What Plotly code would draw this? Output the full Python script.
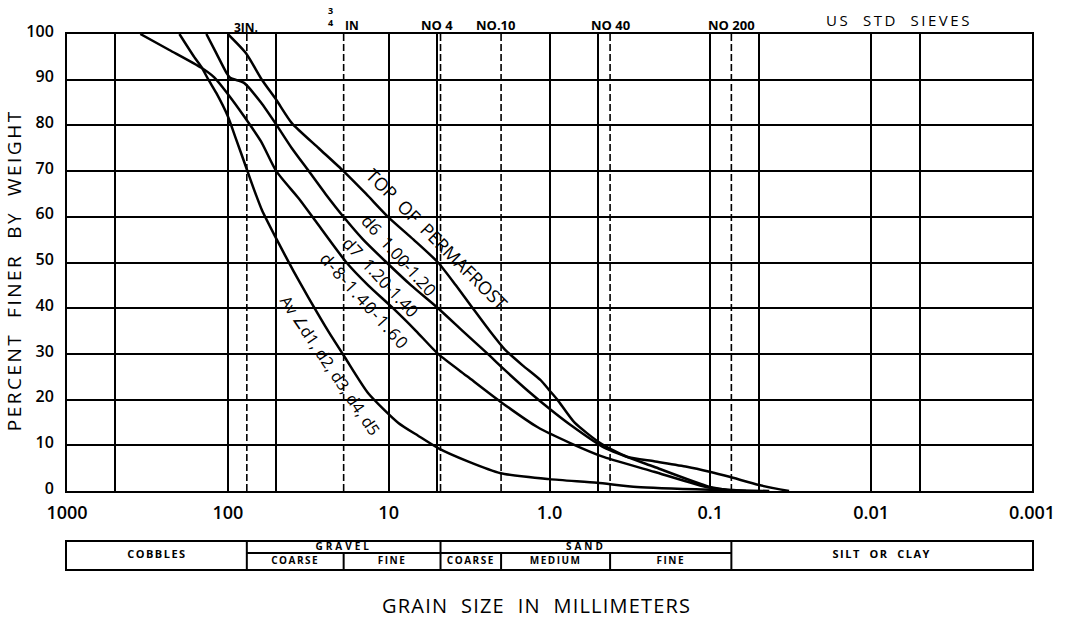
import math
import plotly.graph_objects as go

# ---- grain-size distribution curves (diameter in mm, percent finer by weight) ----
av_mm = [200, 162, 146, 132, 118, 100, 88.9, 77.1, 68.8, 61.4, 49.6, 38.9, 31.4, 23.6,
         18.6, 13.4, 8.7, 6.56, 4.93, 3.22, 2.01, 1.0, 0.506, 0.286, 0.101, 0.043]
av_pct = [100, 95, 92.8, 90, 87.1, 82, 77, 70.9, 66, 61.5, 55, 48, 42.2, 34.8,
          29.1, 21.4, 14.9, 12.1, 9.4, 6.5, 3.9, 2.6, 1.8, 0.9, 0.3, 0]

d6_mm = [100, 77.1, 61.4, 50, 40, 27.2, 19.1, 13.8, 10.1, 7.0, 4.93, 3.82, 3.0, 2.35,
         1.90, 1.47, 1.14, 1.0, 0.894, 0.70, 0.484, 0.33, 0.224, 0.140, 0.101, 0.076,
         0.0496, 0.0324]
d6_pct = [100, 95.8, 90, 85.6, 80.5, 75, 70, 65, 60, 55, 50, 45, 40, 35,
          31, 27.5, 24.3, 22, 20, 15, 10.5, 7.5, 6.5, 5.3, 4.2, 3.1,
          1.3, 0]

d7_mm = [136, 118, 102, 96.8, 79.3, 62.2, 49.6, 40.0, 31.4, 24.7, 19.1, 14.4, 10.3,
         7.25, 4.93, 3.46, 2.42, 1.90, 1.37, 1.0, 0.743, 0.457, 0.224, 0.101, 0.069]
d7_pct = [100, 95.8, 91.5, 90.4, 89.3, 85, 80, 75, 70, 65, 60, 55, 50,
          45, 40, 35, 30, 26.5, 22, 18, 14.5, 9.5, 5.3, 0.9, 0]

d8_mm = [350, 231, 146, 121.5, 98.2, 79.3, 62.2, 50, 36.2, 28.4, 18.3, 13.4, 9.4,
         6.75, 4.93, 3.22, 2.01, 1.19, 0.743, 0.457, 0.224, 0.101, 0.060]
d8_pct = [100, 96.5, 92.6, 90.5, 86.5, 82, 76.5, 70, 64, 59, 50, 45, 40,
          35, 30, 25, 19.5, 14, 10.5, 7.4, 4.2, 0.7, 0]

# ---- US standard sieve openings (mm) ----
sieve_names = ["3IN.", "3/4 IN", "NO 4", "NO.10", "NO 40", "NO 200"]
sieve_mm = [76.2, 19.05, 4.76, 2.0, 0.42, 0.074]

# ---- axis ticks ----
x_tick_vals = [1000, 100, 10, 1, 0.1, 0.01, 0.001]
x_tick_text = ["1000", "100", "10", "1.0", "0.1", "0.01", "0.001"]
x_minor_vals = [500, 50, 5, 0.5, 0.05, 0.005]
y_tick_vals = [0, 10, 20, 30, 40, 50, 60, 70, 80, 90, 100]

# ---- soil classification bands (mm limits) ----
main_bands = [("COBBLES", 1000, 76.2), ("SILT  OR  CLAY", 0.074, 0.001)]
group_bands = [("GRAVEL", 76.2, 4.76), ("SAND", 4.76, 0.074)]
sub_bands = [("COARSE", 76.2, 19.05), ("FINE", 19.05, 4.76),
             ("COARSE", 4.76, 2.0), ("MEDIUM", 2.0, 0.42), ("FINE", 0.42, 0.074)]

FONT = "Open Sans"
INK = "black"


def spaced(text, px):
    """Wrap text in a span with extra letter spacing."""
    return f'<span style="letter-spacing:{px}px">{text}</span>'


fig = go.Figure()

# sieve lines (dashed)
for s in sieve_mm:
    fig.add_trace(go.Scatter(x=[s, s], y=[0, 100], mode="lines",
                             line=dict(color=INK, width=1.6, dash="7px,3px"),
                             hoverinfo="skip", xaxis="x", yaxis="y"))

# gradation curves
for xs, ys in [(av_mm, av_pct), (d6_mm, d6_pct), (d7_mm, d7_pct), (d8_mm, d8_pct)]:
    fig.add_trace(go.Scatter(x=xs, y=ys, mode="lines",
                             line=dict(color=INK, width=2.5, shape="spline", smoothing=0.6),
                             xaxis="x", yaxis="y"))

# classification table beneath the chart
TOP_Y, MID_Y = 27, 16
def seg(x0, x1, y0, y1):
    fig.add_trace(go.Scatter(x=[x0, x1], y=[y0, y1], mode="lines",
                             line=dict(color=INK, width=2), hoverinfo="skip",
                             xaxis="x2", yaxis="y2"))

for lim in [76.2, 4.76, 0.074]:
    seg(lim, lim, 0, TOP_Y)
seg(76.2, 0.074, MID_Y, MID_Y)
for lim in [19.05, 2.0, 0.42]:
    seg(lim, lim, 0, MID_Y)

def band_text(bands, y, size, gap):
    fig.add_trace(go.Scatter(
        x=[math.sqrt(a * b) for _, a, b in bands], y=[y] * len(bands),
        text=[spaced(f"<b>{t}</b>", gap) for t, _, _ in bands], mode="text",
        textfont=dict(family=FONT, size=size, color=INK), cliponaxis=False,
        hoverinfo="skip", xaxis="x2", yaxis="y2"))

band_text(main_bands, 13.5, 11, 1.5)
band_text(group_bands, 21.5, 10, 3)
band_text(sub_bands, 7.5, 10, 1.5)

# ---- annotations ----
ann = []
def curve_label(text, d, p, angle, size=16):
    ann.append(dict(x=math.log10(d), y=p, xref="x", yref="y", text=text,
                    textangle=angle, showarrow=False, xanchor="center", yanchor="middle",
                    font=dict(family=FONT, size=size, color=INK)))

curve_label("TOP  OF  PERMAFROST", 5.0, 55.2, 45, size=18)
curve_label("d6  1.00-1.20", 8.6, 51.5, 48, size=17)
curve_label("d7  1.20-1.40", 11.1, 46.8, 47, size=17)
curve_label(spaced("d-8-1.40-1.60", 1.5), 14.2, 41.6, 48, size=17)
curve_label("Av ∠d1, d2, d3, d4, d5", 23.0, 27.4, 56, size=16)

def top_label(text, s, ypix, xshift=0, size=13, bold=True):
    ann.append(dict(x=math.log10(s), y=(584 - ypix) / 550, xref="x", yref="paper",
                    text=f"<b>{text}</b>" if bold else text, showarrow=False,
                    xshift=xshift, xanchor="center", yanchor="middle",
                    font=dict(family=FONT, size=size, color=INK)))

top_label("3IN.", sieve_mm[0], 28, xshift=-1, size=12)
top_label("3<br>4", sieve_mm[1], 16, xshift=-13, size=9)
top_label("IN", sieve_mm[1], 25, xshift=8, size=12)
top_label("NO 4", sieve_mm[2], 25, xshift=-4, size=13)
top_label("NO.10", sieve_mm[3], 25, xshift=-5, size=13)
top_label("NO 40", sieve_mm[4], 25, xshift=0, size=13)
top_label("NO 200", sieve_mm[5], 25, xshift=0, size=13)

def paper_text(text, xpix, ypix, size, angle=0):
    ann.append(dict(x=(xpix - 67) / 970, y=(584 - ypix) / 550, xref="paper", yref="paper",
                    text=text, textangle=angle, showarrow=False,
                    xanchor="center", yanchor="middle",
                    font=dict(family=FONT, size=size, color=INK)))

paper_text(spaced("US  STD  SIEVES", 2.5), 903, 20, 15)
paper_text(spaced("GRAIN  SIZE  IN  MILLIMETERS", 1.2), 539, 605, 20)
paper_text(spaced("PERCENT  FINER  BY  WEIGHT", 2.5), 14, 270, 19, angle=-90)

axis_line = dict(showline=True, mirror=True, linecolor=INK, linewidth=2, zeroline=False)

fig.update_layout(
    width=1067, height=624,
    margin=dict(l=67, r=30, t=34, b=40),
    paper_bgcolor="white", plot_bgcolor="white",
    showlegend=False,
    font=dict(family=FONT, color=INK),
    xaxis=dict(type="log", range=[3, -3], domain=[0, 1], anchor="y",
               tickmode="array", tickvals=x_tick_vals, ticktext=x_tick_text,
               ticks="", showgrid=True, gridcolor=INK, gridwidth=2,
               minor=dict(tickmode="array", tickvals=x_minor_vals, showgrid=True,
                          gridcolor=INK, gridwidth=2, ticks=""),
               tickfont=dict(family=FONT, size=18, color=INK, weight=600),
               ticklabelstandoff=4, **axis_line),
    yaxis=dict(range=[0, 100], domain=[(584 - 491) / 550, 1], anchor="x",
               tickmode="array", tickvals=y_tick_vals, ticks="",
               showgrid=True, gridcolor=INK, gridwidth=2,
               tickfont=dict(family=FONT, size=16, color=INK, weight=600),
               ticklabelstandoff=8, ticklabelshift=-3, **axis_line),
    xaxis2=dict(type="log", range=[3, -3], domain=[0, 1], anchor="y2",
                showgrid=False, showticklabels=False, ticks="", **axis_line),
    yaxis2=dict(range=[0, TOP_Y], domain=[(584 - 569) / 550, (584 - 542) / 550],
                anchor="x2", showgrid=False, showticklabels=False, ticks="", **axis_line),
    annotations=ann,
)

fig.write_html("out.html")
